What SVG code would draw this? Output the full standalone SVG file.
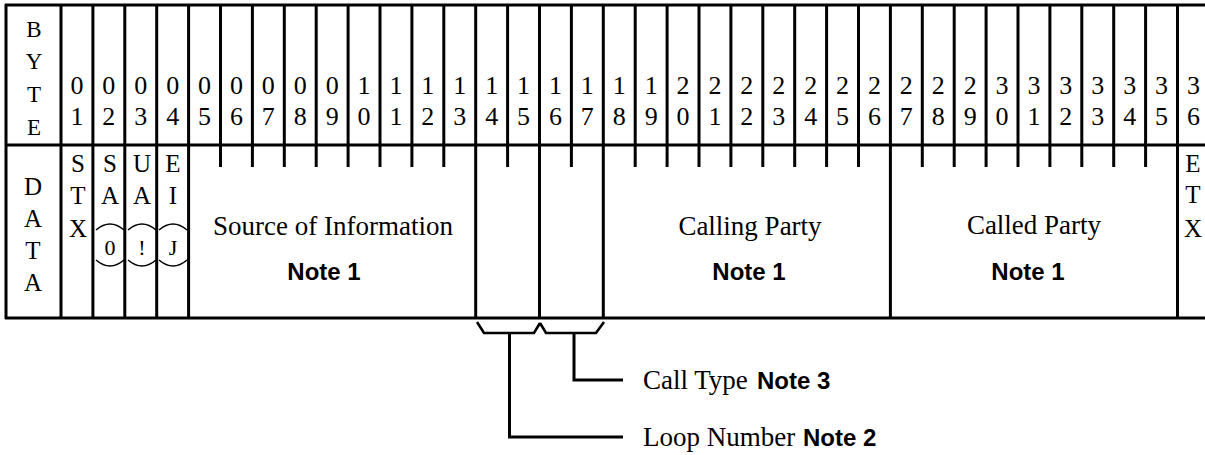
<svg xmlns="http://www.w3.org/2000/svg" width="1205" height="455" viewBox="0 0 1205 455">
<style>
.ln{stroke:#000;stroke-width:3;fill:none}
.br{stroke:#000;stroke-width:2.6;fill:none;stroke-linejoin:miter}
.arc{stroke:#000;stroke-width:1.5;fill:none}
.s{font-family:"Liberation Serif","Times New Roman",serif;fill:#000;text-anchor:middle}
.d{font-size:26px}
.h{font-size:25px}
.v{font-size:23px}
.m{font-size:22px}
.lb{font-size:27px}
.n{font-family:"Liberation Sans",Arial,sans-serif;font-weight:bold;font-size:24px;fill:#000;text-anchor:middle}
.st{text-anchor:start}
</style>
<rect width="1205" height="455" fill="#fff"/>

<g id="frame">
<line class="ln" x1="5" y1="5" x2="1205" y2="5"/>
<line class="ln" x1="5" y1="145" x2="1205" y2="145"/>
<line class="ln" x1="5" y1="318" x2="1205" y2="318"/>
<line class="ln" x1="6" y1="4" x2="6" y2="319"/>
</g>

<g id="header-row">
<g id="byte-label">
<text class="s v" x="34" y="37">B</text>
<text class="s v" x="34" y="69">Y</text>
<text class="s v" x="34" y="102">T</text>
<text class="s v" x="34" y="135">E</text>
</g>
<g id="header-lines">
<path class="ln" d="M61,5V145M92.9,5V145M124.8,5V145M156.7,5V145M188.6,5V145M220.5,5V145M252.4,5V145M284.3,5V145M316.2,5V145M348.1,5V145M380,5V145M411.9,5V145M443.8,5V145M475.7,5V145M507.6,5V145M539.5,5V145M571.4,5V145M603.3,5V145M635.2,5V145M667.1,5V145M699,5V145M730.9,5V145M762.8,5V145M794.7,5V145M826.6,5V145M858.5,5V145M890.4,5V145M922.3,5V145M954.2,5V145M986.1,5V145M1018,5V145M1049.9,5V145M1081.8,5V145M1113.7,5V145M1145.6,5V145M1177.5,5V145"/>
</g>
<g id="byte-numbers" class="s d">
<text x="76.95" y="94">0<tspan x="76.95" y="125">1</tspan></text>
<text x="108.85" y="94">0<tspan x="108.85" y="125">2</tspan></text>
<text x="140.75" y="94">0<tspan x="140.75" y="125">3</tspan></text>
<text x="172.65" y="94">0<tspan x="172.65" y="125">4</tspan></text>
<text x="204.55" y="94">0<tspan x="204.55" y="125">5</tspan></text>
<text x="236.45" y="94">0<tspan x="236.45" y="125">6</tspan></text>
<text x="268.35" y="94">0<tspan x="268.35" y="125">7</tspan></text>
<text x="300.25" y="94">0<tspan x="300.25" y="125">8</tspan></text>
<text x="332.15" y="94">0<tspan x="332.15" y="125">9</tspan></text>
<text x="364.05" y="94">1<tspan x="364.05" y="125">0</tspan></text>
<text x="395.95" y="94">1<tspan x="395.95" y="125">1</tspan></text>
<text x="427.85" y="94">1<tspan x="427.85" y="125">2</tspan></text>
<text x="459.75" y="94">1<tspan x="459.75" y="125">3</tspan></text>
<text x="491.65" y="94">1<tspan x="491.65" y="125">4</tspan></text>
<text x="523.55" y="94">1<tspan x="523.55" y="125">5</tspan></text>
<text x="555.45" y="94">1<tspan x="555.45" y="125">6</tspan></text>
<text x="587.35" y="94">1<tspan x="587.35" y="125">7</tspan></text>
<text x="619.25" y="94">1<tspan x="619.25" y="125">8</tspan></text>
<text x="651.15" y="94">1<tspan x="651.15" y="125">9</tspan></text>
<text x="683.05" y="94">2<tspan x="683.05" y="125">0</tspan></text>
<text x="714.95" y="94">2<tspan x="714.95" y="125">1</tspan></text>
<text x="746.85" y="94">2<tspan x="746.85" y="125">2</tspan></text>
<text x="778.75" y="94">2<tspan x="778.75" y="125">3</tspan></text>
<text x="810.65" y="94">2<tspan x="810.65" y="125">4</tspan></text>
<text x="842.55" y="94">2<tspan x="842.55" y="125">5</tspan></text>
<text x="874.45" y="94">2<tspan x="874.45" y="125">6</tspan></text>
<text x="906.35" y="94">2<tspan x="906.35" y="125">7</tspan></text>
<text x="938.25" y="94">2<tspan x="938.25" y="125">8</tspan></text>
<text x="970.15" y="94">2<tspan x="970.15" y="125">9</tspan></text>
<text x="1002.05" y="94">3<tspan x="1002.05" y="125">0</tspan></text>
<text x="1033.95" y="94">3<tspan x="1033.95" y="125">1</tspan></text>
<text x="1065.85" y="94">3<tspan x="1065.85" y="125">2</tspan></text>
<text x="1097.75" y="94">3<tspan x="1097.75" y="125">3</tspan></text>
<text x="1129.65" y="94">3<tspan x="1129.65" y="125">4</tspan></text>
<text x="1161.55" y="94">3<tspan x="1161.55" y="125">5</tspan></text>
<text x="1193.45" y="94">3<tspan x="1193.45" y="125">6</tspan></text>
</g>
</g>

<g id="data-row">
<g id="data-label" class="s h">
<text x="33" y="195">D</text>
<text x="33" y="227">A</text>
<text x="33" y="259">T</text>
<text x="33" y="291">A</text>
</g>
<g id="data-lines">
<path class="ln" d="M61,145V318M92.9,145V318M124.8,145V318M156.7,145V318M188.6,145V318M475.7,145V318M539.5,145V318M603.3,145V318M890.4,145V318M1177.5,145V318"/>
<path class="ln" d="M220.5,145V167M252.4,145V167M284.3,145V167M316.2,145V167M348.1,145V167M380,145V167M411.9,145V167M443.8,145V167M507.6,145V167M571.4,145V167M635.2,145V167M667.1,145V167M699,145V167M730.9,145V167M762.8,145V167M794.7,145V167M826.6,145V167M858.5,145V167M922.3,145V167M954.2,145V167M986.1,145V167M1018,145V167M1049.9,145V167M1081.8,145V167M1113.7,145V167M1145.6,145V167"/>
</g>
<g id="field-stx" class="s h">
<text x="78" y="172">S</text>
<text x="78" y="204">T</text>
<text x="78" y="237">X</text>
</g>
<g id="field-sa0">
<g class="s h"><text x="110" y="172">S</text><text x="110" y="204">A</text></g>
<text class="s m" x="110" y="255">0</text>
<path class="arc" d="M96,230Q110,218 124,230M96,260Q110,272 124,260"/>
</g>
<g id="field-ua">
<g class="s h"><text x="142" y="172">U</text><text x="142" y="204">A</text></g>
<text class="s m" x="142" y="255">!</text>
<path class="arc" d="M128,230Q142,218 156,230M128,260Q142,272 156,260"/>
</g>
<g id="field-eij">
<g class="s h"><text x="173" y="172">E</text><text x="173" y="204">I</text></g>
<text class="s m" x="173" y="255">J</text>
<path class="arc" d="M159,230Q173,218 187,230M159,260Q173,272 187,260"/>
</g>
<g id="field-source">
<text class="s lb" x="333" y="235">Source of Information</text>
<text class="n" x="324" y="280">Note 1</text>
</g>
<g id="field-loop-number"></g>
<g id="field-call-type"></g>
<g id="field-calling">
<text class="s lb" x="750" y="235">Calling Party</text>
<text class="n" x="749" y="280">Note 1</text>
</g>
<g id="field-called">
<text class="s lb" x="1034" y="234">Called Party</text>
<text class="n" x="1028" y="280">Note 1</text>
</g>
<g id="field-etx" class="s h">
<text x="1193" y="172">E</text>
<text x="1193" y="203">T</text>
<text x="1193" y="237">X</text>
</g>
</g>

<g id="connectors">
<polyline class="br" points="477,322 484,333 534,333 540,323"/>
<polyline class="br" points="540,323 546,333 596,333 604,322"/>
<path class="ln" d="M509.5,333V437H623"/>
<path class="ln" d="M574,333V380H623"/>
</g>

<g id="label-call-type">
<text class="s lb st" x="643" y="389">Call Type</text>
<text class="n st" x="757" y="389">Note 3</text>
</g>
<g id="label-loop-number">
<text class="s lb st" x="643" y="446">Loop Number</text>
<text class="n st" x="803" y="446">Note 2</text>
</g>
</svg>
